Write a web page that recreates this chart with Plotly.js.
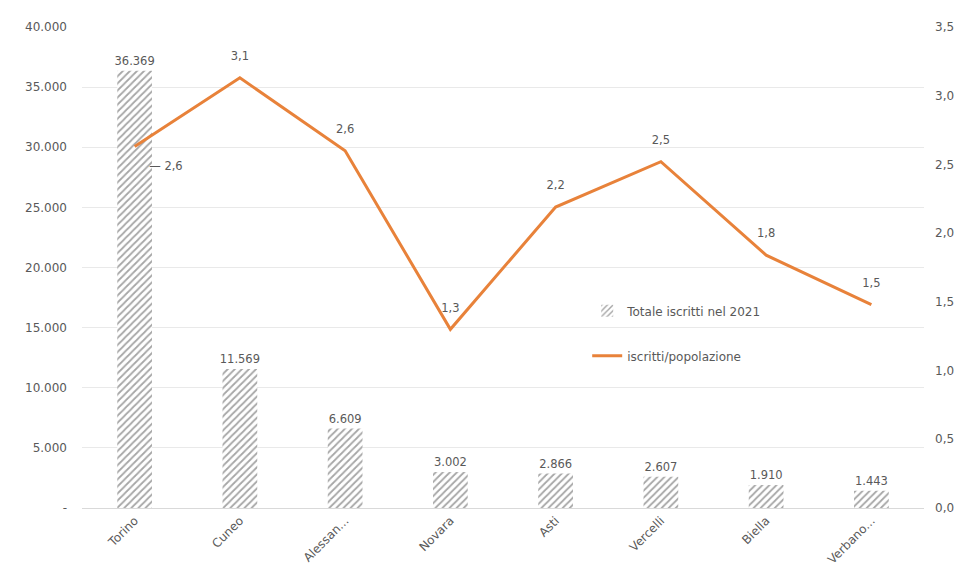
<!DOCTYPE html>
<html>
<head>
<meta charset="utf-8">
<script src="https://cdn.plot.ly/plotly-3.0.1.min.js"></script>
<style>html,body{margin:0;padding:0;background:#fff;}#chart{width:967px;height:572px;}</style>
</head>
<body>
<div id="chart"></div>
<script>
const categories = ["Torino", "Cuneo", "Alessan...", "Novara", "Asti", "Vercelli", "Biella", "Verbano..."];
const iscritti2021 = [36369, 11569, 6609, 3002, 2866, 2607, 1910, 1443];
const iscrittiPopolazione = [2.63, 3.13, 2.6, 1.3, 2.19, 2.52, 1.84, 1.48];
const leftTickVals = [0, 5000, 10000, 15000, 20000, 25000, 30000, 35000, 40000];
const leftTickText = ["-", "5.000", "10.000", "15.000", "20.000", "25.000", "30.000", "35.000", "40.000"];

const FONT = "'DejaVu Sans', Lato, sans-serif";
const GRAY = "#595959";

const bars = {
  type: "bar",
  name: "Totale iscritti nel 2021",
  x: categories,
  y: iscritti2021,
  width: 0.33,
  legendgroup: "a",
  marker: {
    color: "#ffffff",
    line: {width: 0},
    pattern: {shape: "/", fgcolor: "#a6a6a6", bgcolor: "#ffffff", size: 5, solidity: 0.35}
  },
  texttemplate: "%{y:,.0f}",
  textposition: "outside",
  constraintext: "none",
  cliponaxis: false,
  textfont: {family: FONT, size: 11.5, color: GRAY},
  hoverinfo: "x+y"
};

const NB = "\u00a0";
const textTemplates = categories.map((c, i) =>
  i === 0 ? " <br>" + NB.repeat(4) + "— %{y:.1f}" : "%{y:.1f}<br> ");
const textPositions = categories.map((c, i) => i === 0 ? "bottom right" : "top center");

const line = {
  type: "scatter",
  mode: "lines+text",
  name: "iscritti/popolazione",
  x: categories,
  y: iscrittiPopolazione,
  yaxis: "y2",
  legendgroup: "b",
  line: {color: "#E8823A", width: 3},
  texttemplate: textTemplates,
  textposition: textPositions,
  cliponaxis: false,
  textfont: {family: FONT, size: 11.5, color: GRAY}
};

const layout = {
  width: 967,
  height: 572,
  margin: {l: 82, r: 43, t: 27, b: 64},
  paper_bgcolor: "#ffffff",
  plot_bgcolor: "#ffffff",
  separators: ",.",
  font: {family: FONT, size: 12, color: GRAY},
  showlegend: true,
  legend: {
    x: 0.60, y: 0.44, xanchor: "left", yanchor: "top",
    bgcolor: "rgba(255,255,255,0)",
    font: {family: FONT, size: 12, color: GRAY},
    traceorder: "grouped",
    tracegroupgap: 26,
    itemwidth: 30
  },
  xaxis: {
    type: "category",
    tickangle: -45,
    showgrid: false,
    showline: true,
    linecolor: "#d9d9d9",
    linewidth: 1,
    ticks: "",
    tickfont: {family: FONT, size: 12, color: GRAY}
  },
  yaxis: {
    range: [0, 40000],
    tickvals: leftTickVals,
    ticktext: leftTickText,
    showgrid: true,
    gridcolor: "#e9e9e9",
    zeroline: false,
    showline: false,
    ticks: "",
    ticklabelstandoff: 14,
    tickfont: {family: FONT, size: 12, color: GRAY}
  },
  yaxis2: {
    overlaying: "y",
    side: "right",
    range: [0, 3.5],
    dtick: 0.5,
    tickformat: ".1f",
    showgrid: false,
    zeroline: false,
    showline: false,
    ticks: "",
    ticklabelstandoff: 10,
    tickfont: {family: FONT, size: 12, color: GRAY}
  }
};

Plotly.newPlot("chart", [bars, line], layout, {displayModeBar: false, staticPlot: true});
</script>
</body>
</html>
